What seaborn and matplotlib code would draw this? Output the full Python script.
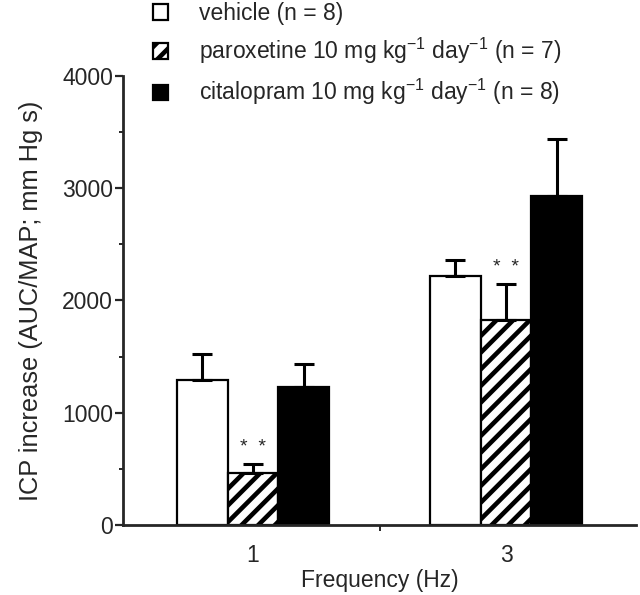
import matplotlib
matplotlib.use("Agg")
import matplotlib.pyplot as plt
from matplotlib.patches import Patch
from matplotlib.ticker import MultipleLocator, FixedLocator
import numpy as np
import pandas as pd
import seaborn as sns

# values
frequencies = ["1", "3"]
groups = ["vehicle (n = 8)",
          "paroxetine 10 mg kg$^{-1}$ day$^{-1}$ (n = 7)",
          "citalopram 10 mg kg$^{-1}$ day$^{-1}$ (n = 8)"]
vehicle_mean = [1290, 2220]
vehicle_sem = [230, 145]
paroxetine_mean = [465, 1830]
paroxetine_sem = [75, 320]
citalopram_mean = [1225, 2930]
citalopram_sem = [205, 510]

means = [vehicle_mean, paroxetine_mean, citalopram_mean]
sems = [vehicle_sem, paroxetine_sem, citalopram_sem]

df = pd.DataFrame({
    "freq": np.tile(frequencies, len(groups)),
    "group": np.repeat(groups, len(frequencies)),
    "icp": np.concatenate(means),
})

sns.set_style("ticks")
plt.rcParams["font.family"] = ["Liberation Sans", "DejaVu Sans"]
plt.rcParams["hatch.linewidth"] = 3.3
plt.rcParams["hatch.color"] = "black"
plt.rcParams["mathtext.fontset"] = "custom"
plt.rcParams["mathtext.rm"] = "Liberation Sans"

fig = plt.figure(figsize=(6.4, 5.95), dpi=100)
ax = fig.add_axes([0.192, 0.118, 0.802, 0.754])

palette = ["white", "white", "black"]
sns.barplot(data=df, x="freq", y="icp", hue="group", order=frequencies,
            hue_order=groups, palette=palette, width=0.6, errorbar=None,
            edgecolor="black", linewidth=1.6, legend=False, ax=ax)

hatches = ["", "//", ""]
for cont, h, err in zip(ax.containers, hatches, sems):
    xs, ys = [], []
    for bar in cont:
        bar.set_hatch(h)
        xs.append(bar.get_x() + bar.get_width() / 2)
        ys.append(bar.get_height())
    ax.errorbar(xs, ys, yerr=[np.zeros(len(err)), err], fmt="none",
                ecolor="black", elinewidth=2.2, capsize=7.5, capthick=2.2,
                zorder=1)

# significance stars over paroxetine bars
par = ax.containers[1]
for bar, err in zip(par, paroxetine_sem):
    ax.text(bar.get_x() + bar.get_width() / 2, bar.get_height() + err + 70,
            "*  *", ha="center", va="bottom", fontsize=14)

ax.set_xlim(-0.514, 1.514)
ax.set_ylim(0, 4000)
ax.yaxis.set_major_locator(MultipleLocator(1000))
ax.yaxis.set_minor_locator(MultipleLocator(500))
ax.xaxis.set_minor_locator(FixedLocator([0.5]))
ax.tick_params(axis="y", which="major", length=6, width=1.6, labelsize=16.5, pad=1)
ax.tick_params(axis="y", which="minor", length=3, width=1.4)
ax.tick_params(axis="x", which="major", length=0, labelsize=16.5, pad=14)
ax.tick_params(axis="x", which="minor", length=4, width=1.4)
ax.set_xlabel("Frequency (Hz)", fontsize=16.5, labelpad=1)
ax.set_ylabel("ICP increase (AUC/MAP; mm Hg s)", fontsize=18.3, labelpad=14)
sns.despine(ax=ax)
for s in ["left", "bottom"]:
    ax.spines[s].set_linewidth(2)

handles = [Patch(facecolor=c, edgecolor="black", hatch=h, linewidth=1.6)
           for c, h in zip(palette, hatches)]
fig.legend(handles, groups, loc="upper left", bbox_to_anchor=(0.225, 1.012),
           frameon=False, fontsize=16.5, handlelength=0.65, handleheight=0.65,
           handletextpad=1.35, labelspacing=0.48, borderaxespad=0)

fig.savefig("out.png", dpi=100)
